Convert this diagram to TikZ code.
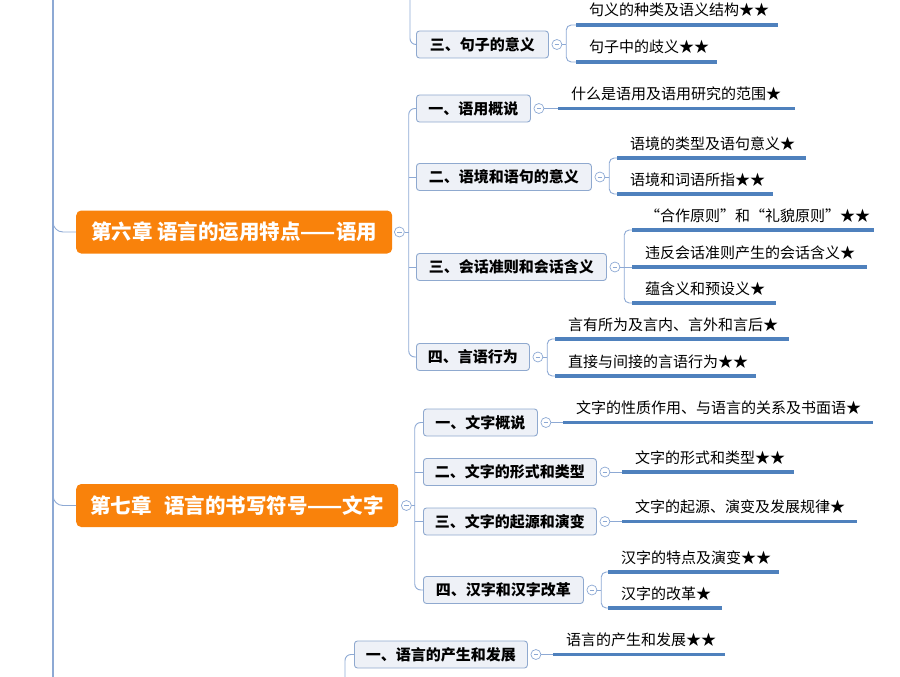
\documentclass[tikz,border=0pt]{standalone}
\usepackage{fontspec}
\setmainfont{Noto Sans CJK SC}
\usetikzlibrary{calc}
\definecolor{linec}{HTML}{8DA9D4}
\definecolor{ulc}{HTML}{4F81BD}
\definecolor{secfill}{HTML}{EEF1F7}
\definecolor{secdraw}{HTML}{8FA9CF}
\definecolor{chfill}{HTML}{F9820B}
\tikzset{
  conn/.style={draw=linec, line width=0.9pt},
  trunk/.style={draw=linec, line width=1.2pt},
  uline/.style={draw=ulc, line width=3.3pt},
  chapbox/.style={rectangle, rounded corners=5pt, fill=chfill, text=white,
    font=\fontsize{20.5}{20.5}\selectfont\bfseries, minimum height=43pt,
    anchor=west, inner sep=0pt, text height=15.6pt, text depth=0pt},
  secbox/.style={rectangle, rounded corners=3pt, fill=secfill, draw=secdraw,
    line width=0.9pt, font=\fontsize{15}{15}\selectfont\bfseries,
    minimum height=27pt, anchor=west, inner sep=0pt,
    text height=11.4pt, text depth=0pt},
  leaf/.style={anchor=south west, inner xsep=13pt, inner ysep=0pt, align=left,
    font=\fontsize{15}{15}\selectfont, minimum height=29pt,
    text height=11.4pt, text depth=0pt},
  tog/.style={circle, draw=linec, fill=white, inner sep=0pt, minimum size=10pt,
    line width=0.7pt,
    path picture={\draw[linec, line width=0.6pt]
      ([xshift=-2.4pt]path picture bounding box.center) --
      ([xshift=2.4pt]path picture bounding box.center);}},
}
\begin{document}
\begin{tikzpicture}[x=1pt,y=-1pt]
\useasboundingbox (0,0) rectangle (900,677);

% trunk
\coordinate (trTop) at (53,0);
\coordinate (trBot) at (53,677);
\draw[trunk] (trTop) -- (trBot);

% ---------- chapter 5 (partial) ----------
\node[secbox, minimum width=132pt] (S53) at (416,44.5) {三、句子的意义};
\node[tog] (t53) at ([xshift=8pt]S53.east) {};
\coordinate (top5) at (410,0);
\draw[conn, rounded corners=6pt] (top5) |- (S53.west);
\node[leaf, text width=176pt] (L531) at (576,25) {句义的种类及语义结构★★};
\node[leaf, text width=115pt] (L532) at (576,62) {句子中的歧义★★};
\coordinate (b53) at ([xshift=4pt]t53.east);
\draw[conn] (t53.east) -- (b53);
\draw[conn, rounded corners=5pt] (b53) |- (L531.south west);
\draw[conn, rounded corners=5pt] (b53) |- (L532.south west);
\foreach \n in {L531,L532} \draw[uline] (\n.south west) -- (\n.south east);

% ---------- chapter 6 ----------
\node[chapbox, minimum width=316pt] (C6) at (76,232) {第六章 语言的运用特点——语用};
\node[tog] (t6) at ([xshift=7pt]C6.east) {};
\coordinate (k6) at (53,218);
\draw[conn, rounded corners=10pt] (k6) |- (C6.west);

\node[secbox, minimum width=114pt] (S61) at (416,108.5) {一、语用概说};
\node[secbox, minimum width=175pt] (S62) at (416,177) {二、语境和语句的意义};
\node[secbox, minimum width=190pt] (S63) at (416,267) {三、会话准则和会话含义};
\node[secbox, minimum width=113pt] (S64) at (416,357) {四、言语行为};
\coordinate (f6) at ([xshift=4pt]t6.east);
\draw[conn] (t6.east) -- (f6);
\draw[conn, rounded corners=6pt] (S61.west) -| (f6) |- (S64.west);
\draw[conn] (f6 |- S62.west) -- (S62.west);
\draw[conn] (f6 |- S63.west) -- (S63.west);
\foreach \s in {S61,S62,S63,S64} \node[tog] (t\s) at ([xshift=8pt]\s.east) {};

% leaves S61
\node[leaf, text width=211pt] (L611) at (558,108.5) {什么是语用及语用研究的范围★};
\draw[conn] (tS61.east) -- (L611.south west);
% leaves S62
\node[leaf, text width=163pt] (L621) at (617,158) {语境的类型及语句意义★};
\node[leaf, text width=130pt] (L622) at (617,194) {语境和词语所指★★};
\coordinate (b62) at ([xshift=4pt]tS62.east);
\draw[conn] (tS62.east) -- (b62);
\draw[conn, rounded corners=5pt] (b62) |- (L621.south west);
\draw[conn, rounded corners=5pt] (b62) |- (L622.south west);
% leaves S63
\node[leaf, text width=216pt] (L631) at (632,230) {“合作原则”和“礼貌原则”★★};
\node[leaf, text width=209pt] (L632) at (632,267) {违反会话准则产生的会话含义★};
\node[leaf, text width=118pt] (L633) at (632,303) {蕴含义和预设义★};
\coordinate (b63) at ([xshift=4pt]tS63.east);
\draw[conn] (tS63.east) -- (L632.south west);
\draw[conn, rounded corners=5pt] (b63) |- (L631.south west);
\draw[conn, rounded corners=5pt] (b63) |- (L633.south west);
% leaves S64
\node[leaf, text width=208pt] (L641) at (555,339) {言有所为及言内、言外和言后★};
\node[leaf, text width=175pt] (L642) at (555,376) {直接与间接的言语行为★★};
\coordinate (b64) at ([xshift=4pt]tS64.east);
\draw[conn] (tS64.east) -- (b64);
\draw[conn, rounded corners=5pt] (b64) |- (L641.south west);
\draw[conn, rounded corners=5pt] (b64) |- (L642.south west);
\foreach \n in {L611,L621,L622,L631,L632,L633,L641,L642}
  \draw[uline] (\n.south west) -- (\n.south east);

% ---------- chapter 7 ----------
\node[chapbox, minimum width=322pt] (C7) at (76,505.5) {第七章\hspace{0.6em}语言的书写符号——文字};
\node[tog] (t7) at ([xshift=8pt]C7.east) {};
\coordinate (k7) at (53,492);
\draw[conn, rounded corners=10pt] (k7) |- (C7.west);

\node[secbox, minimum width=114pt] (S71) at (423,422.5) {一、文字概说};
\node[secbox, minimum width=173pt] (S72) at (423,472) {二、文字的形式和类型};
\node[secbox, minimum width=173pt] (S73) at (423,521.5) {三、文字的起源和演变};
\node[secbox, minimum width=160pt] (S74) at (423,590) {四、汉字和汉字改革};
\coordinate (f7) at ([xshift=3pt]t7.east);
\draw[conn] (t7.east) -- (f7);
\draw[conn, rounded corners=6pt] (S71.west) -| (f7) |- (S74.west);
\draw[conn] (f7 |- S72.west) -- (S72.west);
\draw[conn] (f7 |- S73.west) -- (S73.west);
\foreach \s in {S71,S72,S73,S74} \node[tog] (t\s) at ([xshift=8pt]\s.east) {};

\node[leaf, text width=284pt] (L711) at (563,422.5) {文字的性质作用、与语言的关系及书面语★};
\draw[conn] (tS71.east) -- (L711.south west);
\node[leaf, text width=146pt] (L721) at (622,472) {文字的形式和类型★★};
\draw[conn] (tS72.east) -- (L721.south west);
\node[leaf, text width=209pt] (L731) at (622,521.5) {文字的起源、演变及发展规律★};
\draw[conn] (tS73.east) -- (L731.south west);
\node[leaf, text width=145pt] (L741) at (608,572) {汉字的特点及演变★★};
\node[leaf, text width=88pt] (L742) at (608,608) {汉字的改革★};
\coordinate (b74) at ([xshift=4pt]tS74.east);
\draw[conn] (tS74.east) -- (b74);
\draw[conn, rounded corners=5pt] (b74) |- (L741.south west);
\draw[conn, rounded corners=5pt] (b74) |- (L742.south west);
\foreach \n in {L711,L721,L731,L741,L742}
  \draw[uline] (\n.south west) -- (\n.south east);

% ---------- chapter 8 (partial) ----------
\node[secbox, minimum width=173pt] (S81) at (354,654.5) {一、语言的产生和发展};
\node[tog] (t81) at ([xshift=8pt]S81.east) {};
\coordinate (bot8) at (345,677);
\draw[conn, rounded corners=6pt] (bot8) |- (S81.west);
\node[leaf, text width=146pt] (L811) at (553,654.5) {语言的产生和发展★★};
\draw[conn] (t81.east) -- (L811.south west);
\draw[uline] (L811.south west) -- (L811.south east);
\end{tikzpicture}
\end{document}
